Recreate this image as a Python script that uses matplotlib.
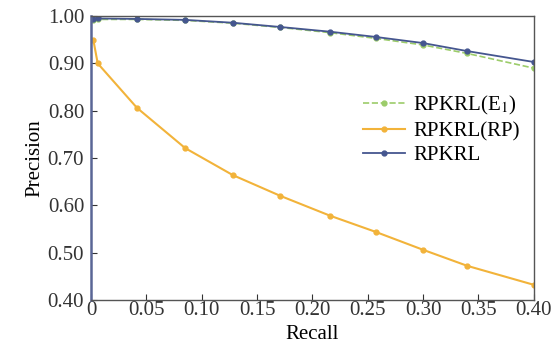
import matplotlib.pyplot as plt

plt.rcParams['font.family'] = ['Liberation Serif', 'DejaVu Serif']
plt.rcParams['mathtext.fontset'] = 'stix'

# recall values (x) and precision values for each method
recall = [0.002, 0.006, 0.0415, 0.085, 0.128, 0.171, 0.216, 0.257, 0.300, 0.340, 0.400]
prec_e1 = [0.992, 0.993, 0.993, 0.991, 0.985, 0.976, 0.965, 0.953, 0.939, 0.921, 0.890]
prec_rp = [0.950, 0.900, 0.806, 0.721, 0.664, 0.620, 0.578, 0.544, 0.506, 0.472, 0.432]
prec_rpkrl = [0.994, 0.995, 0.994, 0.992, 0.986, 0.977, 0.967, 0.956, 0.943, 0.926, 0.903]

x_ticks = [0, 0.05, 0.10, 0.15, 0.20, 0.25, 0.30, 0.35, 0.40]
x_labels = ['0', '0.05', '0.10', '0.15', '0.20', '0.25', '0.30', '0.35', '0.40']
y_ticks = [0.40, 0.50, 0.60, 0.70, 0.80, 0.90, 1.00]
y_labels = ['0.40', '0.50', '0.60', '0.70', '0.80', '0.90', '1.00']

fig = plt.figure(figsize=(5.52, 3.5), dpi=100)
ax = fig.add_axes([0.165, 0.143, 0.802, 0.811])

ax.plot(recall, prec_e1, color='#9ccc6a', linestyle='--', linewidth=1.2,
        marker='o', markersize=3.5, label='RPKRL(E$_1$)')
ax.plot(recall, prec_rp, color='#f2b33a', linewidth=1.5,
        marker='o', markersize=3.5, label='RPKRL(RP)')
ax.plot(recall, prec_rpkrl, color='#45568f', linewidth=1.3,
        marker='o', markersize=3.5, label='RPKRL')

ax.set_xlim(0, 0.40)
ax.set_ylim(0.40, 1.00)
ax.set_xticks(x_ticks)
ax.set_xticklabels(x_labels)
ax.set_yticks(y_ticks)
ax.set_yticklabels(y_labels)
ax.tick_params(direction='in', length=4, labelsize=15, colors='#333333')
ax.tick_params(axis='x', pad=1)
ax.tick_params(axis='y', pad=5)
for s in ax.spines.values():
    s.set_color('#555555')
    s.set_linewidth(1.0)
ax.spines['left'].set_color('#5a6696')
ax.spines['left'].set_linewidth(1.8)

ax.set_xlabel('Recall', fontsize=15, labelpad=3)
ax.set_ylabel('Precision', fontsize=15, labelpad=2)

ax.legend(loc='center right', bbox_to_anchor=(1.01, 0.60), frameon=False,
          fontsize=15, handlelength=2.0, handletextpad=0.4, labelspacing=0.22)

fig.savefig('out.png', dpi=100)
